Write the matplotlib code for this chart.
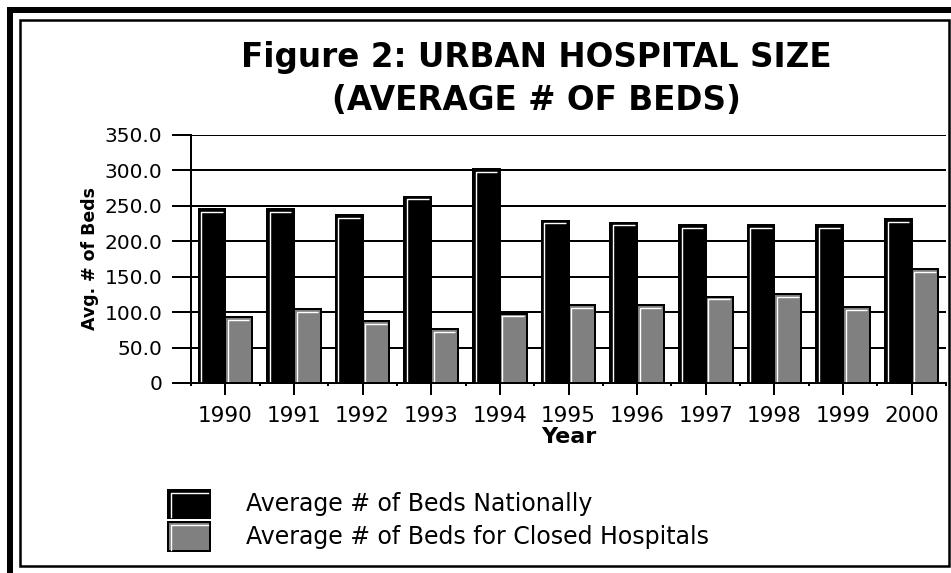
import numpy as np
import matplotlib
matplotlib.use("Agg")
from matplotlib import pyplot as plt
from matplotlib.patches import Rectangle
from matplotlib.lines import Line2D

years = ["1990", "1991", "1992", "1993", "1994", "1995",
         "1996", "1997", "1998", "1999", "2000"]
beds_national = [245, 245, 237, 263, 302, 229, 226, 223, 223, 223, 231]
beds_closed = [93, 104, 87, 76, 98, 110, 110, 122, 125, 107, 161]
y_ticks = [0, 50, 100, 150, 200, 250, 300, 350]
y_tick_labels = ["0", "50.0", "100.0", "150.0", "200.0", "250.0", "300.0", "350.0"]

W, H = 951, 573
plt.rcParams["font.family"] = ["DejaVu Sans"]

fig = plt.figure(figsize=(W / 100, H / 100), dpi=100)
fig.patch.set_facecolor("white")


def fx(px):
    return px / W


def fy(py):
    return 1 - py / H


# axes box in pixels: left 191, right 946, top 135, bottom 383
ax = fig.add_axes([fx(191), fy(383), fx(946) - fx(191), (383 - 135) / H])

x = np.arange(len(years))
bw = 0.39
lw_px = 2.0
lw = lw_px * 72 / 100

black_bars = ax.bar(x - bw / 2, beds_national, bw, color="black",
                    edgecolor="black", linewidth=lw, zorder=3)
gray_bars = ax.bar(x + bw / 2, beds_closed, bw, color="#808080",
                   edgecolor="black", linewidth=lw, zorder=3)

# white bevel on the top and left side of each bar
dx = 2.6 / 68.6
dy = 2.6 / (248 / 350)
for rect in list(black_bars) + list(gray_bars):
    x0, w, h = rect.get_x(), rect.get_width(), rect.get_height()
    ax.plot([x0 + dx, x0 + dx, x0 + w - dx], [0, h - dy, h - dy],
            color="white", linewidth=1.0, zorder=4, solid_capstyle="butt")

ax.set_xlim(-0.5, len(years) - 0.5)
ax.set_ylim(0, 350)
ax.set_yticks(y_ticks)
ax.set_yticklabels(y_tick_labels)
ax.set_xticks(x)
ax.set_xticklabels(years)
ax.set_xticks(np.arange(len(years) + 1) - 0.5, minor=True)

ax.yaxis.grid(True, color="black", linewidth=lw, zorder=1)
ax.set_axisbelow(True)
for side in ["top", "right"]:
    ax.spines[side].set_visible(False)
for side in ["left", "bottom"]:
    ax.spines[side].set_linewidth(lw)
    ax.spines[side].set_color("black")
    ax.spines[side].set_zorder(5)

ax.tick_params(axis="y", direction="out", length=13.5, width=lw, pad=7,
               labelsize=14.5, colors="black")
ax.tick_params(axis="x", which="major", direction="out", length=8.5, width=lw,
               pad=8, labelsize=15.5, colors="black")
ax.tick_params(axis="x", which="minor", direction="out", length=2, width=lw)

ax.set_xlabel("Year", fontsize=16, fontweight="bold", labelpad=1)
ax.set_ylabel("Avg. # of Beds", fontsize=12.5, fontweight="bold", labelpad=4)

fig.text(fx(536), fy(57), "Figure 2: URBAN HOSPITAL SIZE", ha="center",
         va="center", fontsize=23.5, fontweight="bold")
fig.text(fx(536), fy(100), "(AVERAGE # OF BEDS)", ha="center",
         va="center", fontsize=23.5, fontweight="bold")


def bevel_box(px0, py0, pw, ph, color):
    fig.add_artist(Rectangle((fx(px0), fy(py0 + ph)), pw / W, ph / H,
                             facecolor=color, edgecolor="black",
                             linewidth=lw, transform=fig.transFigure))
    fig.add_artist(Line2D([fx(px0 + 2.5), fx(px0 + 2.5), fx(px0 + pw - 2.5)],
                          [fy(py0 + ph - 1), fy(py0 + 2.5), fy(py0 + 2.5)],
                          color="white", linewidth=1.0,
                          transform=fig.transFigure))


bevel_box(168, 490, 42, 28, "black")
bevel_box(168, 522, 42, 29, "#808080")
fig.text(fx(246), fy(504), "Average # of Beds Nationally", ha="left",
         va="center", fontsize=17)
fig.text(fx(246), fy(537), "Average # of Beds for Closed Hospitals",
         ha="left", va="center", fontsize=17)

# picture frame: thick band top/left, thin inner rectangle
fig.add_artist(Rectangle((fx(7), fy(13)), (W - 7) / W, 6 / H,
                         facecolor="black", edgecolor="none",
                         transform=fig.transFigure))
fig.add_artist(Rectangle((fx(7), 0), 6 / W, (H - 7) / H,
                         facecolor="black", edgecolor="none",
                         transform=fig.transFigure))
fig.add_artist(Rectangle((fx(20), fy(566)), (949 - 20) / W, (566 - 20) / H,
                         facecolor="none", edgecolor="black",
                         linewidth=2.5 * 72 / 100, transform=fig.transFigure))

fig.savefig("out.png", dpi=100)
